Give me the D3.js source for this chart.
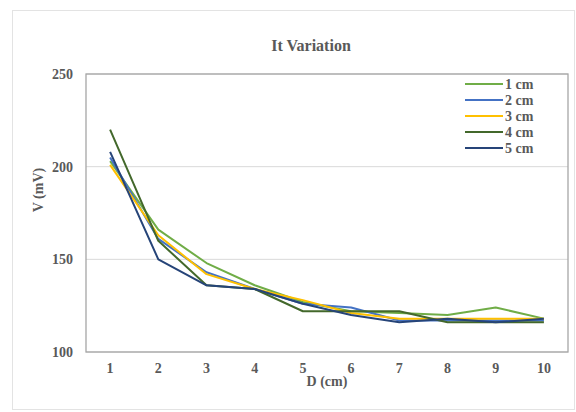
<!DOCTYPE html>
<html>
<head>
<meta charset="utf-8">
<script src="https://cdn.jsdelivr.net/npm/d3@7"></script>
<style>
  body { margin: 0; background: #fff; }
</style>
</head>
<body>
<svg id="canvas" width="576" height="412" font-family="Liberation Serif, DejaVu Serif, serif" font-weight="bold"></svg>
<script>
// distances on the x axis
const DISTANCES = [1, 2, 3, 4, 5, 6, 7, 8, 9, 10]
const SERIES_NAMES = ["1 cm", "2 cm", "3 cm", "4 cm", "5 cm"]
const COLORS = ["#70AD47", "#4472C4", "#FFC000", "#43682B", "#264478"]

const cm1 = [203, 166, 148, 136, 127, 122, 121, 120, 124, 118]
const cm2 = [205, 161, 143, 134, 126, 124, 117, 117, 117, 117]
const cm3 = [201, 163, 142, 134, 128, 121, 118, 118, 118, 118]
const cm4 = [220, 160, 136, 134, 122, 122, 122, 116, 116, 116]
const cm5 = [208, 150, 136, 134, 126, 120, 116, 118, 116, 118]

const Y_TICKS = [100, 150, 200, 250]

let allSeries = [cm1, cm2, cm3, cm4, cm5]

let canvas = d3.select('#canvas')

let plotLeft = 86, plotRight = 568, plotTop = 74, plotBottom = 352
let textColor = '#595959'

// outer chart frame
canvas.append('rect')
    .attr('x', 12.5).attr('y', 10.5)
    .attr('width', 562).attr('height', 399)
    .attr('fill', 'white')
    .attr('stroke', '#e3e3e3')

let xScale = d3.scaleBand()
    .domain(DISTANCES)
    .range([plotLeft, plotRight])

let yScale = d3.scaleLinear()
    .domain([100, 250])
    .range([plotBottom, plotTop])

// gridlines
canvas.append('g')
    .selectAll('line')
    .data(Y_TICKS)
    .enter()
    .append('line')
    .attr('x1', plotLeft).attr('x2', plotRight)
    .attr('y1', (d) => yScale(d)).attr('y2', (d) => yScale(d))
    .attr('stroke', '#d9d9d9')
    .attr('stroke-width', 1)

// plot frame
canvas.append('rect')
    .attr('x', plotLeft).attr('y', plotTop)
    .attr('width', plotRight - plotLeft).attr('height', plotBottom - plotTop)
    .attr('fill', 'none')
    .attr('stroke', '#a6a6a6')
    .attr('stroke-width', 1.3)

let yAxis = d3.axisLeft(yScale).tickValues(Y_TICKS).tickSize(0).tickPadding(13)
let xAxis = d3.axisBottom(xScale).tickSize(0).tickPadding(11)

let gy = canvas.append('g').attr('transform', 'translate(' + plotLeft + ',0)').call(yAxis)
let gx = canvas.append('g').attr('transform', 'translate(0,' + plotBottom + ')').call(xAxis)
gy.select('.domain').remove()
gx.select('.domain').remove()
gy.attr('font-family', null).attr('font-size', 14)
gx.attr('font-family', null).attr('font-size', 14)
canvas.selectAll('.tick text').attr('fill', textColor)

let line = d3.line()
    .x((d, i) => xScale(DISTANCES[i]) + xScale.bandwidth() / 2)
    .y((d) => yScale(d))

canvas.append('g')
    .selectAll('path')
    .data(allSeries)
    .enter()
    .append('path')
    .attr('d', (d) => line(d))
    .attr('fill', 'none')
    .attr('stroke', (d, i) => COLORS[i])
    .attr('stroke-width', 2)
    .attr('stroke-linejoin', 'round')

// title and axis labels
canvas.append('text')
    .attr('x', 311).attr('y', 51)
    .attr('text-anchor', 'middle')
    .attr('font-size', 16)
    .attr('fill', textColor)
    .text('It Variation')

canvas.append('text')
    .attr('x', 327).attr('y', 386)
    .attr('text-anchor', 'middle')
    .attr('font-size', 14)
    .attr('fill', textColor)
    .text('D (cm)')

canvas.append('text')
    .attr('transform', 'translate(43,190) rotate(-90)')
    .attr('text-anchor', 'middle')
    .attr('font-size', 14)
    .attr('fill', textColor)
    .text('V (mV)')

// legend
let legendItems = canvas.append('g')
    .selectAll('g')
    .data(SERIES_NAMES)
    .enter()
    .append('g')
    .attr('transform', (d, i) => 'translate(465,' + (84 + i * 16) + ')')

legendItems.append('line')
    .attr('x1', 0).attr('x2', 38)
    .attr('stroke', (d, i) => COLORS[i])
    .attr('stroke-width', 2)

legendItems.append('text')
    .attr('x', 40).attr('y', 4.5)
    .attr('font-size', 14)
    .attr('fill', textColor)
    .text((d) => d)
</script>
</body>
</html>
